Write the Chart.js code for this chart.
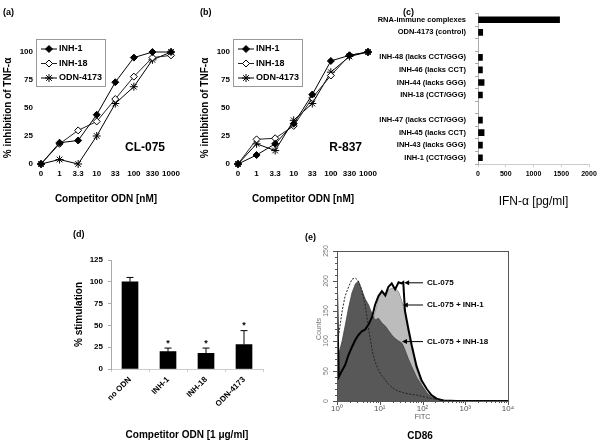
<!DOCTYPE html>
<html>
<head>
<meta charset="utf-8">
<script src="https://cdn.jsdelivr.net/npm/chart.js@4.4.1/dist/chart.umd.min.js"></script>
<style>
  body { margin: 0; width: 600px; height: 444px; background: #fff; position: relative; overflow: hidden; }
  canvas { position: absolute; }
</style>
</head>
<body>
<canvas id="ca" width="200" height="210" style="left:0;top:0"></canvas>
<canvas id="cb" width="200" height="210" style="left:197px;top:0"></canvas>
<canvas id="cc" width="230" height="210" style="left:370px;top:0"></canvas>
<canvas id="cd" width="270" height="219" style="left:0;top:225px"></canvas>
<canvas id="ce" width="330" height="219" style="left:270px;top:225px"></canvas>
<script>
// (a) / (b) dose response, % inhibition of TNF-a
const doseLabels = ['0', '1', '3.3', '10', '33', '100', '330', '1000'];
const seriesNames = ['INH-1', 'INH-18', 'ODN-4173'];
const cl075Inh1  = [0, 19, 21, 44, 73, 95, 100, 100];
const cl075Inh18 = [0, 18, 30, 38, 58, 78, 95, 97];
const cl075Odn   = [0, 4, 0, 25, 54, 69, 93, 100];
const r837Inh1   = [0, 8, 18, 36, 62, 92, 97, 100];
const r837Inh18  = [0, 22, 23, 34, 59, 79, 97, 100];
const r837Odn    = [0, 18, 12, 39, 54, 82, 96, 100];

// (c) IFN-a
const ifnLabels = ['RNA-immune complexes', 'ODN-4173 (control)', '',
  'INH-48 (lacks CCT/GGG)', 'INH-46 (lacks CCT)', 'INH-44 (lacks GGG)', 'INH-18 (CCT/GGG)', '',
  'INH-47 (lacks CCT/GGG)', 'INH-45 (lacks CCT)', 'INH-43 (lacks GGG)', 'INH-1 (CCT/GGG)'];
const ifnValues = [1470, 85, null, 80, 80, 110, 80, null, 80, 110, 80, 80];

// (d) % stimulation
const stimLabels = ['no ODN', 'INH-1', 'INH-18', 'ODN-4173'];
const stimValues = [100, 20, 18, 28];
const stimErrors = [5, 4, 6, 16];
const stimSignif = [false, true, true, true];

// (e) CD86 histogram, x = log10(FITC)
const fitcLog = [0, 0.04, 0.12, 0.19, 0.27, 0.35, 0.43, 0.50, 0.58, 0.66, 0.74, 0.82, 0.89, 0.97,
  1.05, 1.13, 1.20, 1.28, 1.36, 1.44, 1.51, 1.55, 1.59, 1.67, 1.75, 1.86, 1.98, 2.10, 2.21, 2.33,
  2.49, 2.80, 3.11, 3.50, 4.00];
const countsControl = [90, 110, 150, 175, 190, 203, 205, 200, 185, 160, 120, 85, 65, 52, 42, 35, 28,
  23, 19, 16, 15, 14, 13, 12, 11, 10, 8, 6, 4, 3, 1, 0, 0, 0, 0];
const countsCl075 = [185, 40, 51, 60, 77, 90, 102, 110, 116, 119, 128, 140, 160, 175, 183, 176, 190,
  196, 186, 198, 196, 198, 150, 120, 92, 58, 34, 20, 10, 4, 1, 0, 0, 0, 0];
const countsInh1 = [50, 40, 48, 58, 70, 82, 95, 105, 110, 116, 122, 130, 148, 170, 182, 174, 185,
  188, 188, 182, 168, 158, 145, 115, 88, 52, 28, 14, 6, 2, 0, 0, 0, 0, 0];
const countsInh18 = [76, 78, 100, 125, 155, 180, 195, 200, 185, 170, 160, 145, 135, 138, 130, 125,
  118, 110, 104, 100, 97, 92, 85, 70, 57, 40, 26, 14, 7, 3, 1, 0, 0, 0, 0];

const FONT = "'Liberation Sans', Arial, sans-serif";
Chart.defaults.font.family = FONT;
Chart.defaults.color = '#000';

// free text on the canvas
function notes(items) {
  return {
    id: 'notes',
    afterDraw(chart) {
      const ctx = chart.ctx;
      items.forEach(n => {
        ctx.save();
        ctx.font = n.font;
        ctx.fillStyle = n.color || '#000';
        ctx.textAlign = n.align || 'left';
        ctx.textBaseline = 'middle';
        ctx.translate(n.x, n.y);
        if (n.rotate) ctx.rotate(n.rotate);
        ctx.fillText(n.text, 0, 0);
        ctx.restore();
      });
    }
  };
}

// boxed legend like the excel one
function legendBox(x, y, w, h) {
  return {
    id: 'legendBox',
    afterDraw(chart) {
      const ctx = chart.ctx;
      ctx.save();
      ctx.fillStyle = '#fff';
      ctx.fillRect(x, y, w, h);
      ctx.strokeStyle = '#999';
      ctx.lineWidth = 1;
      ctx.strokeRect(x + 0.5, y + 0.5, w, h);
      chart.data.datasets.forEach((ds, i) => {
        const cy = y + 10 + i * 14.5;
        ctx.strokeStyle = ds.borderColor;
        ctx.lineWidth = 1;
        ctx.beginPath();
        ctx.moveTo(x + 5, cy);
        ctx.lineTo(x + 21, cy);
        ctx.stroke();
        ctx.fillStyle = ds.pointBackgroundColor;
        ctx.strokeStyle = ds.pointBorderColor;
        Chart.helpers.drawPoint(ctx, { pointStyle: ds.pointStyle, radius: ds.pointRadius, rotation: 0, borderWidth: 1 }, x + 13, cy);
        ctx.fillStyle = '#000';
        ctx.font = 'bold 9px ' + FONT;
        ctx.textBaseline = 'middle';
        ctx.textAlign = 'left';
        ctx.fillText(ds.label, x + 23, cy);
      });
      ctx.restore();
    }
  };
}

function doseChart(id, s1, s2, s3, panel, tag) {
  new Chart(document.getElementById(id), {
    type: 'line',
    data: {
      labels: doseLabels,
      datasets: [
        { label: seriesNames[0], data: s1, borderColor: '#000', borderWidth: 1, pointStyle: 'rectRot', pointRadius: 3.5,
          pointBackgroundColor: '#000', pointBorderColor: '#000', clip: false },
        { label: seriesNames[1], data: s2, borderColor: '#222', borderWidth: 1, pointStyle: 'rectRot', pointRadius: 3.5,
          pointBackgroundColor: '#fff', pointBorderColor: '#000', clip: false },
        { label: seriesNames[2], data: s3, borderColor: '#000', borderWidth: 1, pointStyle: 'star', pointRadius: 4,
          pointBackgroundColor: '#000', pointBorderColor: '#000', clip: false }
      ]
    },
    options: {
      responsive: false, animation: false, devicePixelRatio: 1,
      layout: { padding: { left: 0, top: 52, right: 29, bottom: 0 } },
      plugins: { legend: { display: false }, tooltip: { enabled: false } },
      scales: {
        x: {
          grid: { display: false, drawTicks: false }, border: { display: false },
          ticks: { font: { size: 8, weight: 'bold' }, padding: 5, maxRotation: 0, autoSkip: false },
          title: { display: true, text: 'Competitor ODN [nM]', font: { size: 10, weight: 'bold' }, padding: { top: 0, bottom: 5 } },
          afterFit: s => { s.height = 46; }
        },
        y: {
          min: 0, max: 100,
          grid: { display: false, drawTicks: false }, border: { display: false },
          ticks: { stepSize: 25, font: { size: 8, weight: 'bold' }, padding: 8 },
          title: { display: true, text: '% inhibition of TNF-α', font: { size: 10, weight: 'bold' }, padding: { top: 2, bottom: 0 } },
          afterFit: s => { s.width = 41; }
        }
      }
    },
    plugins: [legendBox(36, 39, 69, 47), notes([
      { text: panel, x: 3, y: 13, font: 'bold 9px ' + FONT },
      { text: tag, x: 165, y: 148, font: 'bold 12px ' + FONT, align: 'right' }
    ])]
  });
}

doseChart('ca', cl075Inh1, cl075Inh18, cl075Odn, '(a)', 'CL-075');
doseChart('cb', r837Inh1, r837Inh18, r837Odn, '(b)', 'R-837');

// (c)
new Chart(document.getElementById('cc'), {
  type: 'bar',
  data: { labels: ifnLabels, datasets: [{ data: ifnValues, backgroundColor: '#000', barThickness: 6 }] },
  options: {
    indexAxis: 'y',
    responsive: false, animation: false, devicePixelRatio: 1,
    layout: { padding: { left: 0, top: 13, right: 11, bottom: 0 } },
    plugins: { legend: { display: false }, tooltip: { enabled: false } },
    scales: {
      x: {
        min: 0, max: 2000,
        grid: { drawOnChartArea: false, tickLength: 3, color: '#ccc' }, border: { color: '#ccc' },
        ticks: { stepSize: 500, font: { size: 7, weight: 'bold' }, padding: 3, maxRotation: 0, callback: v => String(v) },
        title: { display: true, text: 'IFN-α [pg/ml]', font: { size: 12 }, padding: { top: 0, bottom: 1 } },
        afterFit: s => { s.height = 46; }
      },
      y: {
        grid: { drawOnChartArea: false, tickLength: 3, color: '#aaa' }, border: { color: '#aaa' },
        ticks: { font: { size: 7.5, weight: 'bold' }, padding: 9, autoSkip: false },
        afterFit: s => { s.width = 108; }
      }
    }
  },
  plugins: [notes([{ text: '(c)', x: 33, y: 13, font: 'bold 9px ' + FONT }])]
});

// (d)
const errorBars = {
  id: 'errorBars',
  afterDatasetsDraw(chart) {
    const ctx = chart.ctx;
    const ys = chart.scales.y;
    const bars = chart.getDatasetMeta(0).data;
    ctx.save();
    ctx.strokeStyle = '#000';
    ctx.lineWidth = 1;
    bars.forEach((bar, i) => {
      const top = ys.getPixelForValue(stimValues[i] + stimErrors[i]);
      ctx.beginPath();
      ctx.moveTo(bar.x, bar.y);
      ctx.lineTo(bar.x, top);
      ctx.moveTo(bar.x - 3.5, top);
      ctx.lineTo(bar.x + 3.5, top);
      ctx.stroke();
      if (stimSignif[i]) {
        ctx.fillStyle = '#000';
        ctx.font = 'bold 9px ' + FONT;
        ctx.textAlign = 'center';
        ctx.textBaseline = 'middle';
        ctx.fillText('*', bar.x, top - 5);
      }
    });
    ctx.restore();
  }
};

new Chart(document.getElementById('cd'), {
  type: 'bar',
  data: { labels: stimLabels, datasets: [{ data: stimValues, backgroundColor: '#000', barThickness: 16 }] },
  options: {
    responsive: false, animation: false, devicePixelRatio: 1,
    layout: { padding: { left: 0, top: 35, right: 7, bottom: 0 } },
    plugins: { legend: { display: false }, tooltip: { enabled: false } },
    scales: {
      x: {
        grid: { drawOnChartArea: false, tickLength: 3, color: '#ccc' }, border: { color: '#ccc' },
        ticks: { font: { size: 8, weight: 'bold' }, padding: 3, minRotation: 45, maxRotation: 45, autoSkip: false },
        title: { display: true, text: 'Competitor ODN [1 μg/ml]', font: { size: 10, weight: 'bold' }, padding: { top: 0, bottom: 3 } },
        afterFit: s => { s.height = 75; }
      },
      y: {
        min: 0, max: 125,
        grid: { drawOnChartArea: false, tickLength: 3, color: '#aaa' }, border: { color: '#aaa' },
        ticks: { stepSize: 25, font: { size: 8, weight: 'bold' }, padding: 5 },
        title: { display: true, text: '% stimulation', font: { size: 10, weight: 'bold' }, padding: { top: 73, bottom: 0 } },
        afterFit: s => { s.width = 111; }
      }
    }
  },
  plugins: [errorBars, notes([{ text: '(d)', x: 73, y: 10, font: 'bold 9px ' + FONT }])]
});

// (e)
const sup = ['⁰', '¹', '²', '³', '⁴'];
const pts = counts => fitcLog.map((x, i) => ({ x: x, y: counts[i] }));

const flowFrame = {
  id: 'flowFrame',
  afterDraw(chart) {
    const ctx = chart.ctx;
    const a = chart.chartArea;
    const xs = chart.scales.x, ys = chart.scales.y;
    ctx.save();
    ctx.strokeStyle = '#555';
    ctx.lineWidth = 1;
    ctx.strokeRect(Math.round(a.left) + 0.5, Math.round(a.top) + 0.5, Math.round(a.right - a.left), Math.round(a.bottom - a.top));
    ctx.beginPath();
    for (let d = 0; d <= 4; d++) {
      const px = Math.round(xs.getPixelForValue(d)) + 0.5;
      ctx.moveTo(px, a.bottom); ctx.lineTo(px, a.bottom + 4);
      if (d < 4) {
        for (let k = 2; k <= 9; k++) {
          const mx = Math.round(xs.getPixelForValue(d + Math.log10(k))) + 0.5;
          ctx.moveTo(mx, a.bottom); ctx.lineTo(mx, a.bottom + 2);
        }
      }
    }
    for (let v = 0; v <= 250; v += 10) {
      const py = Math.round(ys.getPixelForValue(v)) + 0.5;
      const len = v % 50 === 0 ? 4 : 2;
      ctx.moveTo(a.left, py); ctx.lineTo(a.left - len, py);
    }
    ctx.stroke();
    ctx.fillStyle = '#777';
    ctx.font = '7px ' + FONT;
    ctx.textAlign = 'center';
    ctx.textBaseline = 'middle';
    for (let v = 0; v <= 250; v += 50) {
      ctx.save();
      ctx.translate(a.left - 11, ys.getPixelForValue(v));
      ctx.rotate(-Math.PI / 2);
      ctx.fillText(String(v), 0, 0);
      ctx.restore();
    }
    ctx.save();
    ctx.translate(a.left - 18, ys.getPixelForValue(120));
    ctx.rotate(-Math.PI / 2);
    ctx.fillText('Counts', 0, 0);
    ctx.restore();
    // arrows with labels
    const arrows = [
      { text: 'CL-075', e: 1.57, c: 197 },
      { text: 'CL-075 + INH-1', e: 1.54, c: 160 },
      { text: 'CL-075 + INH-18', e: 1.52, c: 99 }
    ];
    ctx.font = 'bold 8px ' + FONT;
    ctx.textAlign = 'left';
    ctx.fillStyle = '#000';
    ctx.strokeStyle = '#000';
    arrows.forEach(ar => {
      const tx = xs.getPixelForValue(ar.e), ty = ys.getPixelForValue(ar.c);
      ctx.beginPath();
      ctx.moveTo(153, ty); ctx.lineTo(tx + 3, ty);
      ctx.stroke();
      ctx.beginPath();
      ctx.moveTo(tx, ty); ctx.lineTo(tx + 5, ty - 2.5); ctx.lineTo(tx + 5, ty + 2.5); ctx.closePath();
      ctx.fill();
      ctx.fillText(ar.text, 157, ty);
    });
    ctx.restore();
  }
};

new Chart(document.getElementById('ce'), {
  type: 'line',
  data: {
    datasets: [
      { label: 'control', data: pts(countsControl), borderColor: '#222', borderWidth: 1, borderDash: [2, 1.5], pointRadius: 0, fill: false },
      { label: 'CL-075', data: pts(countsCl075), borderColor: '#000', borderWidth: 2, pointRadius: 0, fill: false },
      { label: 'CL-075 + INH-18', data: pts(countsInh18), borderColor: '#444', borderWidth: 0.8, backgroundColor: '#585858', pointRadius: 0, fill: 'origin' },
      { label: 'CL-075 + INH-1', data: pts(countsInh1), borderColor: '#888', borderWidth: 0.8, backgroundColor: '#bcbcbc', pointRadius: 0, fill: 'origin' }
    ]
  },
  options: {
    responsive: false, animation: false, devicePixelRatio: 1,
    layout: { padding: { left: 0, top: 26, right: 92, bottom: 0 } },
    plugins: { legend: { display: false }, tooltip: { enabled: false } },
    scales: {
      x: {
        type: 'linear', min: 0, max: 4,
        grid: { display: false, drawTicks: false }, border: { display: false },
        ticks: { stepSize: 1, color: '#555', font: { size: 8 }, padding: 3, maxRotation: 0, callback: v => '10' + sup[v] },
        title: { display: true, text: 'FITC', color: '#555', font: { size: 7 }, padding: { top: 0, bottom: 23 } },
        afterFit: s => { s.height = 43; }
      },
      y: {
        min: 0, max: 250,
        grid: { display: false, drawTicks: false }, border: { display: false },
        ticks: { display: false },
        afterFit: s => { s.width = 67; }
      }
    }
  },
  plugins: [flowFrame, notes([
    { text: '(e)', x: 35, y: 13, font: 'bold 9px ' + FONT },
    { text: 'CD86', x: 150, y: 211, font: 'bold 10px ' + FONT, align: 'center' }
  ])]
});
</script>
</body>
</html>
